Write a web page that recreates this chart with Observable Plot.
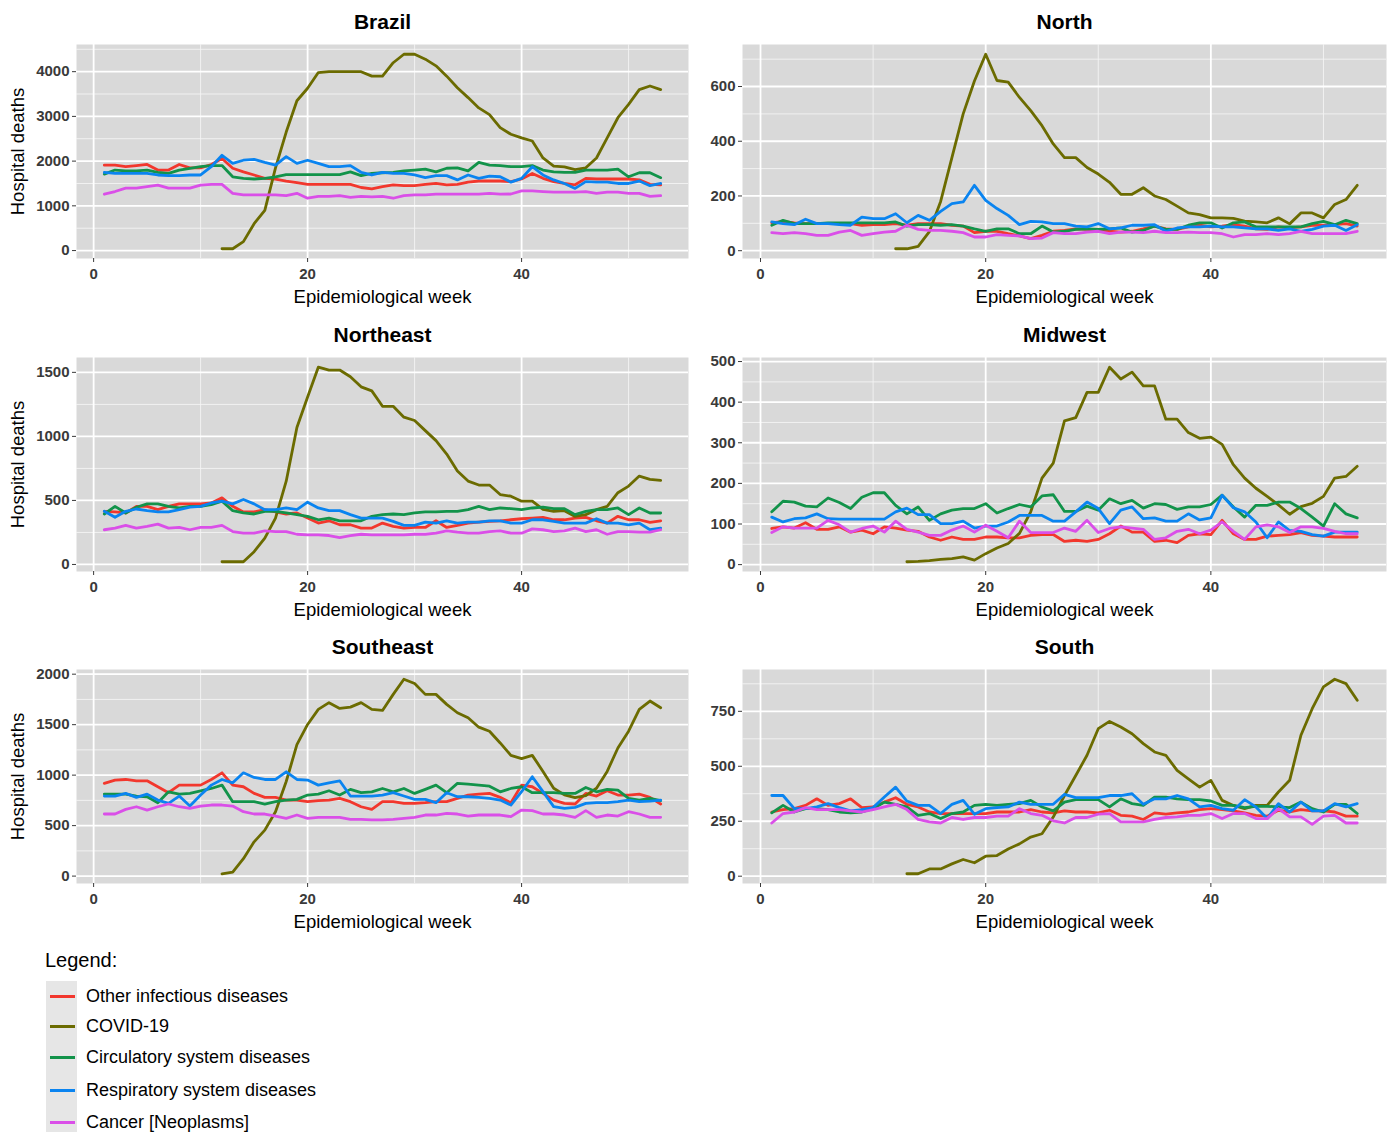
<!DOCTYPE html>
<html><head><meta charset="utf-8">
<script src="https://cdn.jsdelivr.net/npm/d3@7"></script>
<script src="https://cdn.jsdelivr.net/npm/@observablehq/plot@0.6"></script>
<style>
body{margin:0;background:#fff;font-family:"Liberation Sans",Arial,sans-serif;}
#root{position:relative;width:1392px;height:1132px;overflow:hidden;background:#fff;}
.panel{position:absolute;}
.lg{position:absolute;white-space:nowrap;color:#000;}
</style></head><body><div id="root"></div>
<script>
const regions = ["Brazil","North","Northeast","Midwest","Southeast","South"];
const seriesNames = ["Other infectious diseases","COVID-19","Circulatory system diseases","Respiratory system diseases","Cancer [Neoplasms]"];
const seriesColors = ["#F2372D","#6B6B00","#12934A","#0A84F0","#DA4FE8"];
const weeks = d3.range(1, 54);
const covidFirstWeek = [12, 12, 12, 13, 12, 13];
const yTickList = [[0,1000,2000,3000,4000],[0,200,400,600],[0,500,1000,1500],[0,100,200,300,400,500],[0,500,1000,1500,2000],[0,250,500,750]];
const xTicks = [0, 20, 40];
const xMinorTicks = [10, 30, 50];

// Brazil
const brazilOther = [1910,1910,1875,1900,1925,1800,1800,1925,1850,1850,1925,2060,1840,1760,1690,1615,1600,1555,1520,1480,1480,1480,1480,1480,1410,1380,1430,1470,1450,1450,1480,1500,1470,1480,1530,1555,1560,1555,1540,1600,1725,1615,1540,1500,1470,1615,1600,1600,1600,1600,1580,1480,1470];
const brazilCovid = [40,40,200,600,900,1850,2650,3350,3630,3980,4000,4000,4000,4000,3900,3900,4200,4390,4390,4280,4130,3900,3640,3420,3190,3040,2750,2600,2520,2450,2070,1890,1870,1810,1850,2070,2520,2970,3270,3600,3680,3600];
const brazilCirc = [1710,1800,1780,1780,1800,1750,1725,1800,1840,1875,1900,1900,1650,1615,1600,1615,1650,1700,1700,1700,1700,1700,1700,1760,1675,1725,1740,1750,1780,1800,1820,1760,1840,1850,1780,1970,1910,1900,1875,1875,1900,1800,1760,1750,1750,1800,1800,1800,1820,1650,1740,1740,1630];
const brazilResp = [1750,1725,1725,1725,1725,1690,1675,1675,1690,1690,1875,2130,1950,2020,2040,1970,1910,2100,1950,2020,1950,1875,1875,1900,1750,1690,1750,1725,1725,1690,1630,1675,1675,1580,1690,1615,1665,1650,1530,1615,1875,1690,1580,1500,1390,1540,1530,1530,1500,1500,1555,1450,1500];
const brazilCancer = [1260,1320,1395,1395,1430,1465,1395,1395,1395,1465,1480,1480,1280,1245,1245,1245,1245,1230,1280,1170,1210,1210,1230,1190,1210,1200,1210,1170,1230,1245,1245,1260,1260,1260,1260,1260,1280,1260,1265,1335,1335,1320,1305,1305,1305,1320,1280,1305,1305,1280,1280,1210,1230];
// North
const northOther = [102,107,102,99,99,99,99,99,93,95,95,99,93,99,99,99,93,90,66,71,71,62,54,44,56,71,74,80,78,74,71,68,71,80,90,80,78,87,93,87,90,95,90,80,78,87,83,87,93,93,95,99,90];
const northCovid = [7,7,16,70,180,340,500,620,718,622,616,560,512,457,390,340,340,304,280,250,206,206,230,200,187,163,138,132,120,120,118,108,105,102,120,98,138,138,120,169,187,239];
const northCirc = [93,111,99,99,99,102,102,102,102,102,102,105,90,95,95,93,95,90,80,71,80,80,62,62,90,68,71,78,80,78,80,83,68,74,90,78,78,93,102,102,83,102,105,87,87,87,87,87,99,107,95,111,99];
const northResp = [105,99,95,115,99,99,95,93,123,117,117,135,102,129,111,144,172,178,239,184,154,129,95,107,105,99,99,90,87,99,80,83,93,93,95,71,83,87,87,90,87,87,83,80,80,74,80,71,78,90,93,74,95];
const northCancer = [66,62,66,62,56,56,68,74,56,62,68,71,93,78,74,74,71,66,50,50,59,56,54,44,46,66,62,62,68,71,62,68,68,66,71,66,66,68,66,66,62,50,59,59,62,59,62,71,62,62,62,62,71];
// Northeast
const neOther = [415,410,402,454,454,428,454,473,473,473,480,520,454,410,410,428,410,394,402,362,323,341,310,310,284,284,323,297,284,289,289,341,289,305,323,331,336,341,349,357,362,368,349,349,362,368,341,323,376,349,349,328,341];
const neCovid = [21,21,21,100,205,362,650,1070,1308,1540,1518,1518,1466,1387,1355,1235,1235,1150,1124,1045,967,862,730,651,620,620,546,533,494,494,430,415,420,375,389,428,454,560,612,690,665,657];
const neCirc = [394,454,402,447,473,473,454,441,454,454,467,494,420,402,394,415,415,402,389,376,349,362,341,341,341,376,389,394,389,402,410,410,415,415,428,454,428,441,436,428,441,447,436,436,389,415,428,428,441,389,441,402,402];
const neResp = [415,368,415,433,420,410,410,428,447,454,480,494,473,507,473,428,428,441,428,486,441,420,420,389,362,362,362,336,305,305,331,323,341,323,331,331,341,341,323,323,349,349,336,323,323,323,357,323,323,310,323,271,284];
const neCancer = [271,284,305,284,297,315,284,289,271,289,289,305,257,244,244,263,257,257,236,231,231,226,210,226,236,231,231,231,231,236,236,244,263,252,244,244,257,263,244,244,278,271,257,263,284,257,271,236,257,257,252,252,271];
// Midwest
const mwOther = [89,93,90,103,87,87,93,80,85,76,93,90,85,82,68,60,68,62,62,68,68,66,66,72,74,74,57,60,57,62,76,95,80,80,57,60,54,72,76,74,109,76,62,62,70,72,74,79,72,70,68,68,68];
const mwCovid = [7,8,10,13,15,19,11,27,41,52,77,130,213,250,354,362,424,424,486,457,474,440,440,358,358,325,311,314,296,246,213,188,168,147,124,143,151,168,213,217,242];
const mwCirc = [130,156,154,144,142,164,153,138,166,177,177,146,125,142,109,125,134,138,138,150,127,138,148,142,169,172,131,131,144,134,162,150,158,139,150,148,136,142,142,148,171,142,117,146,146,154,154,138,117,95,150,125,115];
const mwResp = [117,105,113,115,125,113,112,112,112,112,112,130,139,123,123,101,101,107,90,95,95,105,121,121,121,107,107,130,154,138,101,134,142,113,115,107,107,125,110,115,171,140,130,105,66,105,84,82,74,70,80,80,80];
const mwCancer = [79,93,90,90,90,109,98,80,89,95,80,107,87,80,72,72,85,95,80,97,82,66,107,79,79,79,90,82,109,79,89,93,90,87,62,66,82,87,76,85,105,82,62,93,98,93,79,93,93,89,82,76,76];
// Southeast
const seOther = [918,951,957,944,944,885,826,901,901,901,957,1023,901,885,819,780,780,753,753,737,747,753,770,737,687,661,737,737,720,720,727,737,737,770,803,812,819,780,727,901,885,819,753,720,714,819,793,845,803,803,812,780,714];
const seCovid = [23,40,173,339,455,638,937,1302,1502,1651,1718,1661,1674,1718,1651,1641,1800,1950,1907,1800,1800,1701,1618,1568,1475,1435,1319,1196,1163,1196,1037,870,804,777,797,870,1037,1269,1435,1651,1734,1668];
const seCirc = [812,812,812,793,786,727,835,812,819,845,868,901,737,737,737,714,737,753,760,803,812,845,803,859,826,835,868,835,868,819,859,901,826,918,911,901,891,835,868,885,826,826,826,819,819,878,835,859,852,770,753,770,747];
const seResp = [793,793,819,780,812,753,720,793,694,803,901,957,924,1023,977,957,957,1033,957,951,901,924,944,793,793,793,803,826,793,760,760,727,826,786,786,780,770,753,704,836,984,837,688,671,681,720,727,727,737,753,737,743,753];
const seCancer = [615,615,661,687,654,687,714,687,671,694,704,704,694,638,615,615,595,572,605,572,582,582,582,562,562,556,556,562,572,582,605,605,622,615,595,605,605,605,589,654,648,615,615,605,582,648,582,605,595,638,615,582,582];
// South
const sOther = [292,303,307,322,352,322,330,352,312,315,337,357,327,315,292,285,285,285,285,285,292,292,292,303,292,288,297,292,292,288,300,277,273,258,288,282,288,292,303,307,303,297,288,277,273,300,292,303,297,297,292,273,273];
const sCovid = [11,11,33,33,56,76,61,91,94,124,147,178,193,269,367,458,550,671,704,679,648,603,565,550,481,443,405,436,345,322,307,322,322,383,436,641,762,861,896,876,800];
const sCirc = [288,322,292,307,307,303,292,288,292,307,337,327,315,277,285,262,285,292,322,327,322,327,330,345,315,297,337,348,348,348,315,352,330,322,360,360,352,348,348,342,322,322,312,318,318,315,312,337,307,292,327,327,285];
const sResp = [367,367,307,307,315,330,312,297,303,312,360,405,342,322,322,285,327,345,282,307,312,315,337,327,327,327,372,357,357,357,367,367,375,327,352,352,367,352,315,322,307,300,348,315,262,330,292,337,297,297,330,315,330];
const sCancer = [242,285,292,312,303,303,303,297,292,303,315,327,303,258,247,242,267,258,267,267,273,273,307,285,277,252,242,267,267,282,285,247,247,247,258,267,270,277,277,285,262,285,285,262,262,307,270,270,236,273,277,242,242];

const regionSeries = [
  [brazilOther, brazilCovid, brazilCirc, brazilResp, brazilCancer],
  [northOther, northCovid, northCirc, northResp, northCancer],
  [neOther, neCovid, neCirc, neResp, neCancer],
  [mwOther, mwCovid, mwCirc, mwResp, mwCancer],
  [seOther, seCovid, seCirc, seResp, seCancer],
  [sOther, sCovid, sCirc, sResp, sCancer]
];

const root = document.getElementById("root");
const FONT = "'Liberation Sans', Arial, sans-serif";
const xExt = [1, 53];
const xPad = (xExt[1] - xExt[0]) * 0.05;
const xDomain = [xExt[0] - xPad, xExt[1] + xPad];

regions.forEach((region, i) => {
  const col = i % 2, row = Math.floor(i / 2);
  const geo = col === 0 ? {left: 0, width: 695, ml: 76, mr: 7} : {left: 690, width: 700, ml: 52, mr: 4};
  const top = [4, 317, 629][row];
  const series = regionSeries[i].map((vals, s) => {
    const start = s === 1 ? covidFirstWeek[i] : 1;
    return vals.map((v, k) => ({week: start + k, value: v, series: seriesNames[s]}));
  });
  const all = series.flat();
  const yMin = d3.min(all, d => d.value), yMax = d3.max(all, d => d.value);
  const yPad = (yMax - yMin) * 0.05;
  const yDomain = [yMin - yPad, yMax + yPad];
  const yTicks = yTickList[i];
  const step = yTicks[1] - yTicks[0];
  const yMinor = d3.range(yTicks[0] - step / 2, yDomain[1], step).filter(v => v > yDomain[0] && v < yDomain[1]);

  const marks = [
    Plot.frame({fill: "#d9d9d9", stroke: "none"}),
    Plot.ruleX(xMinorTicks, {stroke: "#f4f4f4", strokeWidth: 0.9}),
    Plot.ruleY(yMinor, {stroke: "#f4f4f4", strokeWidth: 0.9}),
    Plot.ruleX(xTicks, {stroke: "#ffffff", strokeWidth: 1.8}),
    Plot.ruleY(yTicks, {stroke: "#ffffff", strokeWidth: 1.8}),
    ...series.map((data, s) => Plot.line(data, {x: "week", y: "value", stroke: seriesColors[s], strokeWidth: 2.8})),
    Plot.axisX({ticks: xTicks, tickSize: 4, tickPadding: 6, tickFormat: d => String(d), label: null, color: "#3a3a3a", fontWeight: "bold", fontSize: 15}),
    Plot.axisY({ticks: yTicks, tickSize: 4, tickPadding: 3, tickFormat: d => String(d), label: null, color: "#3a3a3a", fontWeight: "bold", fontSize: 15}),
    Plot.text([region], {text: d => d, frameAnchor: "top", lineAnchor: "middle", dy: -22, fontSize: 21, fontWeight: "bold", fill: "#000"}),
    Plot.text(["Epidemiological week"], {text: d => d, frameAnchor: "bottom", lineAnchor: "middle", dy: 39, fontSize: 18.5, fill: "#000"})
  ];
  if (col === 0) {
    marks.push(Plot.text(["Hospital deaths"], {text: d => d, frameAnchor: "left", textAnchor: "middle", lineAnchor: "middle", dx: -58, rotate: -90, fontSize: 18.5, fill: "#000"}));
  }
  const chart = Plot.plot({
    width: geo.width, height: 306,
    marginLeft: geo.ml, marginRight: geo.mr, marginTop: 40, marginBottom: 52,
    style: {background: "transparent", fontFamily: FONT, fontSize: "15px", overflow: "visible"},
    x: {domain: xDomain},
    y: {domain: yDomain},
    marks
  });
  const div = document.createElement("div");
  div.className = "panel";
  div.style.left = geo.left + "px";
  div.style.top = top + "px";
  div.appendChild(chart);
  root.appendChild(div);
});

// Legend
const legTitle = document.createElement("div");
legTitle.className = "lg";
legTitle.style.cssText += "left:45px;top:947px;font-size:20px;line-height:26px;";
legTitle.textContent = "Legend:";
root.appendChild(legTitle);
const keyBox = document.createElement("div");
keyBox.style.cssText = "position:absolute;left:46px;top:981px;width:31px;height:160px;background:#e6e6e6;";
root.appendChild(keyBox);
const legendY = [996, 1026, 1057, 1090, 1122];
seriesNames.forEach((name, s) => {
  const line = document.createElement("div");
  line.style.cssText = `position:absolute;left:50px;width:25px;height:3px;top:${legendY[s] - 1.5}px;background:${seriesColors[s]};`;
  root.appendChild(line);
  const lab = document.createElement("div");
  lab.className = "lg";
  lab.style.cssText += `left:86px;top:${legendY[s] - 12}px;font-size:18px;line-height:24px;`;
  lab.textContent = name;
  root.appendChild(lab);
});
</script>
</body></html>
